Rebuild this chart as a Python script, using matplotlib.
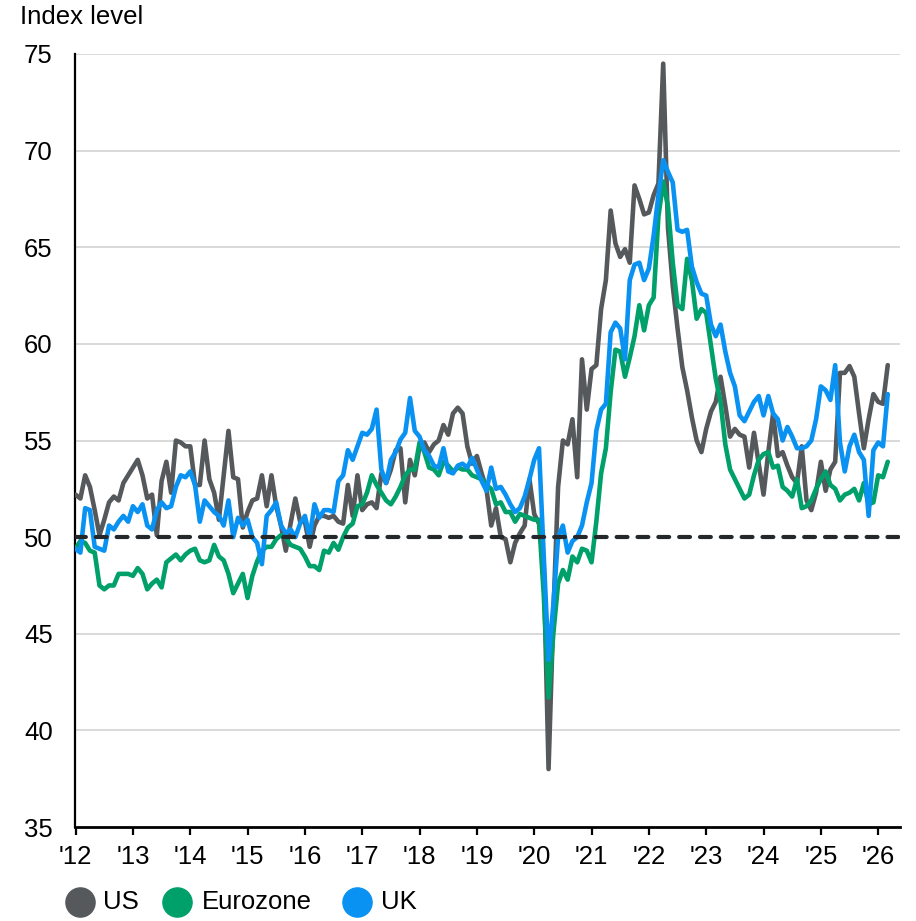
import matplotlib
matplotlib.use("Agg")
import matplotlib.pyplot as plt
from matplotlib.lines import Line2D
import numpy as np

plt.rcParams['font.family'] = ['Liberation Sans', 'DejaVu Sans']

# Monthly values, Jan 2012 .. Mar 2026
start_year = 2012
us = [52.2, 52.0, 53.2, 52.6, 51.4, 50.1, 50.9, 51.8, 52.1, 51.9, 52.8, 53.2,
      53.6, 54.0, 53.2, 52.0, 52.2, 50.1, 52.9, 53.9, 52.3, 55.0, 54.9, 54.7,
      54.7, 52.7, 52.7, 55.0, 53.0, 52.3, 50.9, 53.2, 55.5, 53.1, 53.0, 50.5,
      51.3, 51.9, 52.0, 53.2, 51.6, 53.2, 51.6, 50.6, 49.3, 50.7, 52.0, 50.8,
      50.8, 49.5, 50.6, 51.1, 51.1, 51.0, 51.1, 50.8, 50.7, 52.7, 51.1, 53.2,
      51.4, 51.7, 51.8, 51.5, 53.3, 52.8, 53.5, 54.5, 54.6, 51.8, 54.0, 53.2,
      54.7, 54.9, 54.4, 54.8, 55.0, 55.8, 55.3, 56.4, 56.7, 56.4, 54.7, 53.8,
      54.2, 53.3, 52.5, 50.6, 51.5, 50.0, 49.9, 48.7, 49.7, 50.2, 50.6, 53.0,
      51.2, 50.7, 48.5, 38.0, 46.0, 52.6, 55.0, 54.8, 56.1, 53.1, 59.2, 56.6,
      58.7, 58.9, 61.8, 63.3, 66.9, 65.2, 64.5, 64.9, 64.2, 68.2, 67.5, 66.7,
      66.8, 67.7, 68.3, 74.5, 66.0, 63.0, 60.8, 58.8, 57.6, 56.2, 55.0, 54.4,
      55.6, 56.5, 57.0, 58.3, 56.8, 55.2, 55.6, 55.3, 55.2, 53.6, 55.4, 53.8,
      52.2, 54.4, 56.4, 54.2, 54.4, 53.7, 53.1, 52.8, 54.7, 51.9, 51.4, 52.3,
      53.9, 52.4, 53.5, 53.9, 58.5, 58.5, 58.85, 58.3, 56.4, 54.6, 56.1, 57.4,
      57.0, 56.9, 58.9]
eurozone = [49.4, 49.8, 49.7, 49.3, 49.2, 47.5, 47.3, 47.5, 47.5, 48.1, 48.1, 48.1,
            48.0, 48.4, 48.1, 47.3, 47.6, 47.8, 47.4, 48.7, 48.9, 49.1, 48.8, 49.1,
            49.3, 49.4, 48.8, 48.7, 48.8, 49.6, 49.0, 48.8, 48.1, 47.1, 47.6, 48.1,
            46.85, 48.0, 48.75, 49.3, 49.5, 49.5, 49.9, 50.1, 49.96, 49.6, 49.5, 49.4,
            49.0, 48.5, 48.5, 48.3, 49.3, 49.2, 49.7, 49.35, 50.0, 50.5, 50.7, 51.6,
            51.7, 52.3, 53.2, 52.7, 52.3, 51.9, 51.7, 52.1, 52.6, 53.2, 53.5, 53.5,
            54.9, 54.4, 53.6, 53.5, 53.2, 53.9, 53.7, 53.4, 53.6, 53.5, 53.5, 53.2,
            53.1, 53.0, 52.7, 52.5, 51.7, 51.8, 51.3, 51.3, 50.8, 51.2, 51.1, 51.0,
            50.9, 50.9, 47.0, 41.7, 45.0, 47.6, 48.3, 47.8, 49.0, 48.7, 49.4, 49.3,
            48.7, 50.8, 53.3, 54.6, 57.5, 59.7, 59.6, 58.3, 59.3, 60.4, 62.0, 60.7,
            62.0, 62.4, 66.6, 68.4, 67.1, 64.2, 62.0, 61.8, 64.4, 63.3, 61.3, 61.8,
            61.6, 59.9, 58.2, 57.0, 54.8, 53.5, 53.0, 52.5, 52.0, 52.2, 53.2, 54.0,
            54.3, 54.4, 53.6, 53.7, 52.6, 52.4, 52.1, 53.0, 51.5, 51.6, 51.9, 52.5,
            53.0, 53.4, 52.7, 52.5, 51.9, 52.2, 52.3, 52.5, 51.9, 52.8, 51.7, 51.8,
            53.2, 53.1, 53.9]
uk = [49.4, 49.2, 51.5, 51.4, 49.5, 49.4, 49.3, 50.6, 50.4, 50.8, 51.1, 50.8,
      51.6, 51.3, 51.7, 50.6, 50.4, 51.4, 51.8, 51.5, 51.6, 52.6, 53.2, 53.1,
      53.4, 52.7, 50.8, 51.9, 51.6, 51.3, 51.1, 50.6, 51.9, 50.0, 51.0, 50.6,
      50.9, 50.0, 49.7, 48.6, 51.1, 51.4, 51.8, 50.6, 50.2, 50.4, 50.0, 50.7,
      51.1, 50.0, 51.7, 51.0, 51.4, 51.4, 51.3, 52.9, 53.2, 54.5, 54.0, 54.7,
      55.4, 55.3, 55.6, 56.6, 53.5, 52.8, 54.0, 54.4, 55.05, 55.4, 57.2, 55.5,
      55.2, 54.5, 54.2, 53.7, 53.6, 54.6, 53.4, 53.3, 53.7, 53.8, 53.6, 54.1,
      53.5, 52.9, 52.4, 53.6, 52.5, 52.6, 52.2, 51.7, 51.3, 51.5, 52.1, 53.0,
      54.0, 54.6, 49.0, 43.65, 46.5, 50.0, 50.6, 49.2, 49.8, 50.0, 50.6, 51.8,
      52.8, 55.5, 56.6, 56.9, 60.6, 61.1, 60.8, 59.2, 63.3, 64.1, 64.2, 63.3,
      63.9, 65.6, 67.7, 69.5, 68.9, 68.35, 65.9, 65.8, 65.9, 64.0, 63.2, 62.6,
      62.5, 61.0, 60.4, 61.0, 59.6, 58.5, 57.8, 56.3, 56.0, 56.5, 57.0, 57.3,
      56.3, 57.3, 56.4, 56.1, 55.0, 55.7, 55.2, 54.6, 54.6, 54.7, 55.0, 56.1,
      57.8, 57.6, 57.1, 58.9, 54.9, 53.4, 54.7, 55.3, 54.4, 54.0, 51.1, 54.5,
      54.9, 54.7, 57.4]
series_names = ["US", "Eurozone", "UK"]
series_colors = ["#55595c", "#00a06a", "#0a92f2"]
year_ticks = list(range(2012, 2027))
year_labels = ["'" + str(y)[2:] for y in year_ticks]
y_ticks = [35, 40, 45, 50, 55, 60, 65, 70, 75]

t = start_year + np.arange(len(us)) / 12.0

fig = plt.figure(figsize=(9.16, 9.21), dpi=100)
ax = fig.add_axes([0.0819, 0.102, 0.9006, 0.8394])

for yv in y_ticks:
    if yv not in (35, 50):
        ax.axhline(yv, color="#cfcfcf", lw=1.1, zorder=1)

for vals, c in zip([us, eurozone, uk], series_colors):
    ax.plot(t, vals, color=c, lw=3.3, solid_joinstyle="round",
            solid_capstyle="round", zorder=3)

ax.axhline(50, color="#24282b", lw=3.0, linestyle=(0, (2.6, 2.4)),
           dash_capstyle="round", zorder=4)

ax.set_xlim(2011.99, 2026.38)
ax.set_ylim(35, 75)
ax.set_yticks(y_ticks)
ax.set_yticklabels([str(v) for v in y_ticks])
ax.set_xticks(year_ticks)
ax.set_xticklabels(year_labels)

for s in ["top", "right"]:
    ax.spines[s].set_visible(False)
ax.spines["left"].set_linewidth(1.6)
ax.spines["bottom"].set_linewidth(2.0)
ax.spines["left"].set_color("black")
ax.spines["bottom"].set_color("black")

ax.tick_params(axis="y", length=0, pad=16, labelsize=18.5, colors="black")
ax.tick_params(axis="x", length=6, width=1.6, pad=7, labelsize=18.5,
               direction="out", colors="black")

fig.text(0.022, 0.982, "Index level", fontsize=18.5, va="center", ha="left")

# Legend
leg_y = 1 - 902 / 921
leg_items = [(80, 103), (177, 202), (357, 381)]
for (cx, tx), name, c in zip(leg_items, series_names, series_colors):
    fig.add_artist(Line2D([cx / 916], [leg_y], marker="o", markersize=21,
                          color=c, linestyle="none", transform=fig.transFigure))
    fig.text(tx / 916, leg_y, name, fontsize=18.5, va="center", ha="left")

fig.savefig("out.png", dpi=100)
